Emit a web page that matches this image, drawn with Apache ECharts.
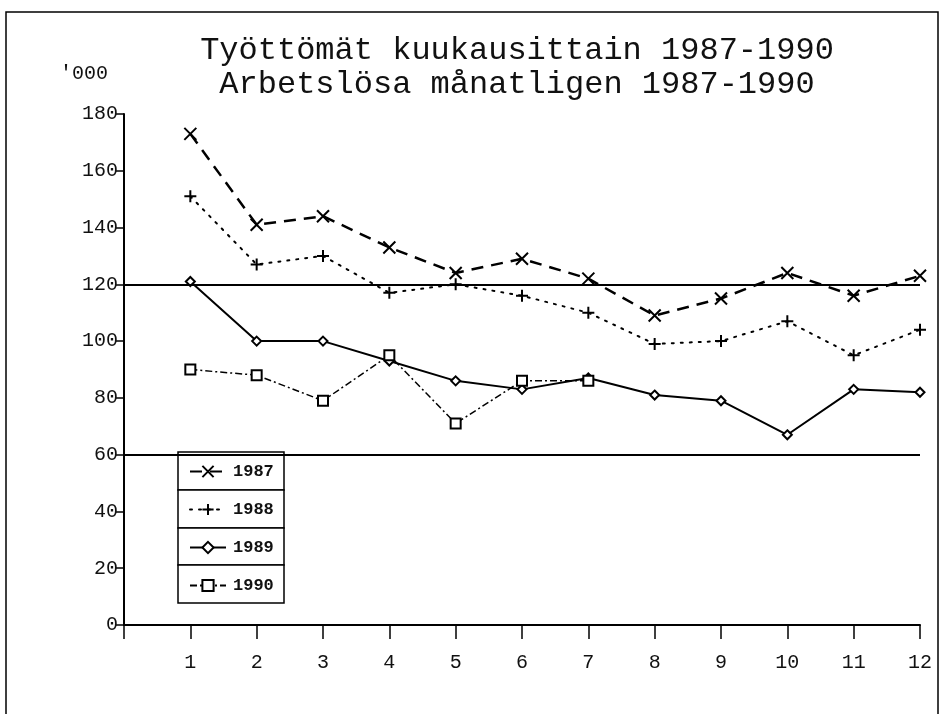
<!DOCTYPE html>
<html lang="fi">
<head>
    <meta charset="UTF-8">
    <title>Työttömät kuukausittain 1987-1990</title>
    <style>
        html, body { margin: 0; padding: 0; background: #fff; }
        #main { width: 940px; height: 714px; }
    </style>
    <script src="https://cdn.jsdelivr.net/npm/echarts@6/dist/echarts.min.js"></script>
</head>
<body>
<div id="main"></div>
<script type="text/javascript">
    // data, thousands of unemployed
    var months = [1, 2, 3, 4, 5, 6, 7, 8, 9, 10, 11, 12];
    var y1987 = [173, 141, 144, 133, 124, 129, 122, 109, 115, 124, 116, 123];
    var y1988 = [151, 127, 130, 117, 120, 116, 110, 99, 100, 107, 95, 104];
    var y1989 = [121, 100, 100, 93, 86, 83, 87, 81, 79, 67, 83, 82];
    var y1990 = [90, 88, 79, 95, 71, 86, 86];
    var yTicks = [0, 20, 40, 60, 80, 100, 120, 140, 160, 180];
    var refLines = [60, 120];

    var font = '"Liberation Mono", "DejaVu Sans Mono", monospace';

    function pairs(vals) {
        return vals.map(function (v, i) { return [months[i], v]; });
    }

    var myChart = echarts.init(document.getElementById('main'));

    var option = {
        backgroundColor: '#fff',
        animation: false,
        title: {
            text: 'Työttömät kuukausittain 1987-1990\nArbetslösa månatligen 1987-1990',
            left: 512,
            top: 29,
            textAlign: 'center',
            textStyle: {
                fontFamily: font,
                fontWeight: 'normal',
                fontSize: 32,
                lineHeight: 34,
                color: '#111'
            }
        },
        legend: {
            orient: 'vertical',
            left: 184,
            top: 458,
            itemWidth: 36,
            itemHeight: 14,
            itemGap: 21,
            textStyle: { fontFamily: font, fontSize: 17, fontWeight: 'bold', color: '#111', padding: [0, 0, 0, 2] },
            data: ['1987', '1988', '1989', '1990']
        },
        grid: { left: 124, right: 20, top: 114, bottom: 89 },
        xAxis: {
            type: 'value',
            min: 0,
            max: 12,
            interval: 1,
            splitLine: { show: false },
            axisLine: { lineStyle: { color: '#000', width: 2 } },
            axisTick: { inside: false, length: 14, lineStyle: { color: '#000', width: 1.5 } },
            axisLabel: {
                margin: 28,
                fontFamily: font,
                fontSize: 20,
                color: '#111',
                formatter: function (v) { return v === 0 ? '' : String(v); }
            }
        },
        yAxis: {
            type: 'value',
            min: yTicks[0],
            max: yTicks[yTicks.length - 1],
            interval: 20,
            name: "'000",
            nameLocation: 'end',
            nameGap: 30,
            nameTextStyle: {
                fontFamily: font, fontSize: 20, color: '#111',
                align: 'right', padding: [0, 16, 0, 0]
            },
            splitLine: { show: false },
            axisLine: { show: true, lineStyle: { color: '#000', width: 2 } },
            axisTick: { show: true, inside: false, length: 9, lineStyle: { color: '#000', width: 1.5 } },
            axisLabel: { margin: 6, fontFamily: font, fontSize: 20, color: '#111' }
        },
        graphic: [
            { type: 'rect', shape: { x: 6, y: 12, width: 932, height: 710 },
              style: { fill: 'none', stroke: '#000', lineWidth: 1.5 }, silent: true },
            { type: 'rect', z: -1, shape: { x: 178, y: 452, width: 106, height: 38 },
              style: { fill: '#fff', stroke: '#000', lineWidth: 1.5 }, silent: true },
            { type: 'rect', z: -1, shape: { x: 178, y: 490, width: 106, height: 38 },
              style: { fill: '#fff', stroke: '#000', lineWidth: 1.5 }, silent: true },
            { type: 'rect', z: -1, shape: { x: 178, y: 528, width: 106, height: 37 },
              style: { fill: '#fff', stroke: '#000', lineWidth: 1.5 }, silent: true },
            { type: 'rect', z: -1, shape: { x: 178, y: 565, width: 106, height: 38 },
              style: { fill: '#fff', stroke: '#000', lineWidth: 1.5 }, silent: true }
        ],
        series: [
            {
                name: '1987',
                type: 'line',
                data: pairs(y1987),
                symbol: 'path://M0,0L10,10M10,0L0,10',
                symbolSize: 12,
                itemStyle: { color: '#000', borderColor: '#000', borderWidth: 2 },
                lineStyle: { color: '#000', width: 2.5, type: [12, 8] }
            },
            {
                name: '1988',
                type: 'line',
                data: pairs(y1988),
                symbol: 'path://M5,0L5,10M0,5L10,5',
                symbolSize: 12,
                itemStyle: { color: '#000', borderColor: '#000', borderWidth: 2 },
                lineStyle: { color: '#000', width: 2, type: [2, 7], cap: 'round' }
            },
            {
                name: '1989',
                type: 'line',
                data: pairs(y1989),
                symbol: 'emptyDiamond',
                symbolSize: 9,
                itemStyle: { color: '#000', borderColor: '#000', borderWidth: 1.5 },
                lineStyle: { color: '#000', width: 2 },
                markLine: {
                    silent: true,
                    symbol: 'none',
                    label: { show: false },
                    lineStyle: { color: '#000', width: 2, type: 'solid' },
                    data: refLines.map(function (v) { return { yAxis: v }; })
                }
            },
            {
                name: '1990',
                type: 'line',
                data: pairs(y1990),
                symbol: 'emptyRect',
                symbolSize: 10,
                itemStyle: { color: '#000', borderColor: '#000', borderWidth: 1.5 },
                lineStyle: { color: '#000', width: 1.5, type: [7, 3, 2, 3] }
            }
        ]
    };
    myChart.setOption(option);
</script>
</body>
</html>
